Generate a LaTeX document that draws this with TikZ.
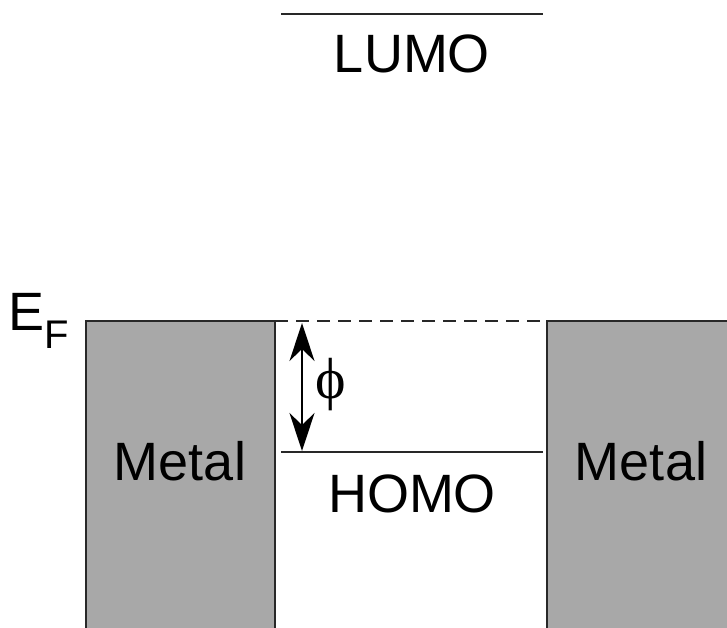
\documentclass[tikz,border=0pt]{standalone}
\usepackage{fontspec}
\setmainfont{Liberation Sans}
\newfontfamily\symfont{Liberation Serif}
\usetikzlibrary{arrows.meta}
\definecolor{metalgray}{RGB}{168,168,168}
\definecolor{edge}{RGB}{40,40,40}
\tikzset{
  level/.style={draw=edge, line width=2.2pt},
  metalbox/.style={fill=metalgray, draw=edge, line width=2.2pt},
  lbl/.style={font=\fontsize{54}{60}\selectfont, inner sep=0pt},
  gap/.style={draw=black, line width=1.8pt,
    {Stealth[length=38pt,width=25pt,inset=12pt]}-{Stealth[length=38pt,width=25pt,inset=12pt]}},
}
\begin{document}
\begin{tikzpicture}[x=1pt,y=-1pt]
  \useasboundingbox (0,0) rectangle (727,628);
  \clip (0,0) rectangle (727,628);

  % metal electrodes (running off the bottom and right edges)
  \path[metalbox] (86,640) -- (86,321) -- (275,321) -- (275,640);
  \path[metalbox] (547,640) -- (547,321) -- (740,321);
  \fill[metalgray] (549,323) rectangle (740,640);

  % Fermi level across the gap
  \coordinate (efL) at (275,321);
  \coordinate (efR) at (547,321);
  \draw[edge, line width=2.2pt, dash pattern=on 13pt off 8pt] (efL) -- (efR);

  % molecular levels
  \coordinate (lumoL) at (281,14);
  \coordinate (lumoR) at (543,14);
  \draw[level] (lumoL) -- (lumoR);
  \coordinate (homoL) at (281,452);
  \coordinate (homoR) at (543,452);
  \draw[level] (homoL) -- (homoR);

  % barrier height
  \coordinate (phiTop) at (302,323);
  \coordinate (phiBot) at (302,451);
  \draw[gap] (phiTop) -- (phiBot);

  % labels
  \node[lbl] (lumo) at (412,54) {LUMO};
  \node[lbl] (homo) at (412,494) {HOMO};
  \node[lbl] (metalL) at (180,461) {Metal};
  \node[lbl] (metalR) at (641,461) {Metal};
  \node[font=\symfont\fontsize{58}{64}\selectfont, inner sep=0pt] (phi) at (331,385) {ϕ};
  \node[lbl, anchor=base west] (ef) at (8,330) {E\raisebox{-0.35em}{\fontsize{40}{44}\selectfont F}};
\end{tikzpicture}
\end{document}
